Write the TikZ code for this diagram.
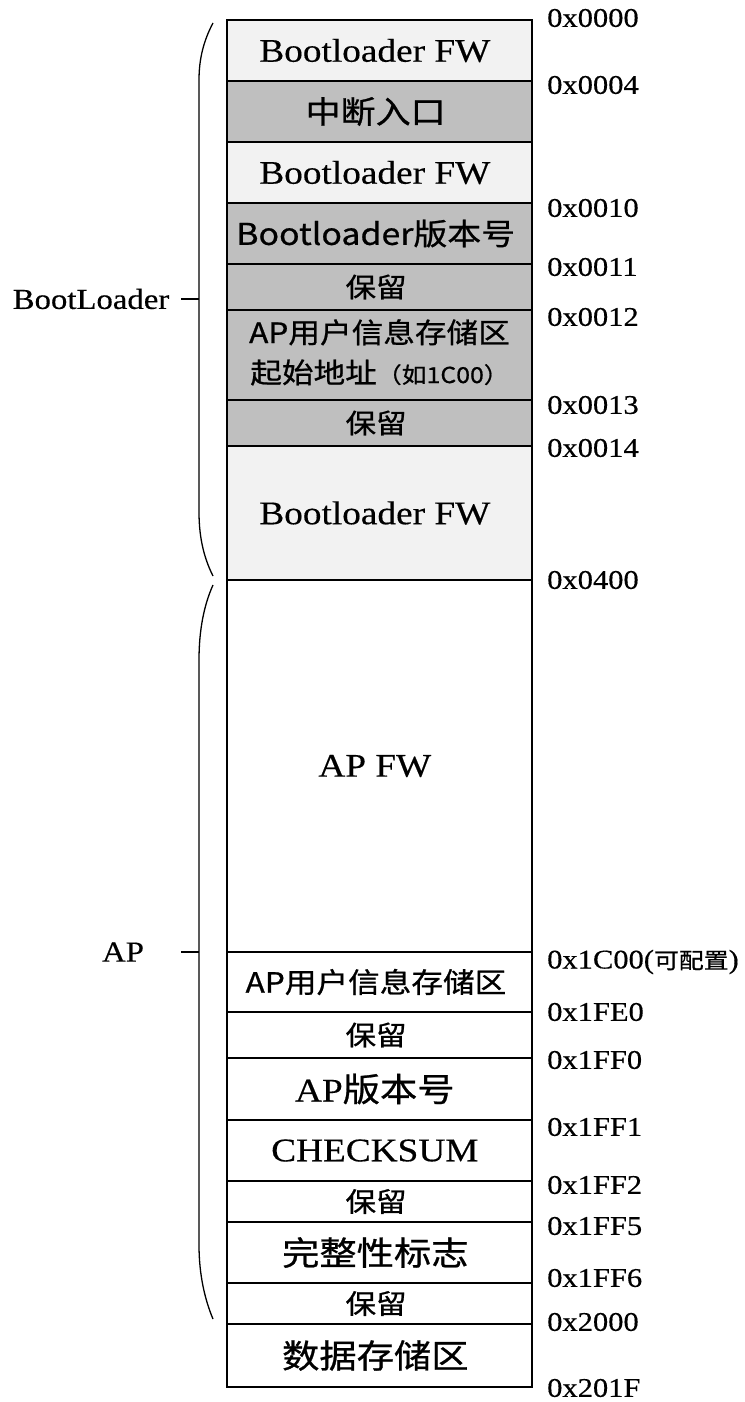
\documentclass[tikz,border=0pt]{standalone}
\usepackage{fontspec}
\setmainfont{Liberation Serif}[FakeStretch=1.13,FakeBold=0.4]
\newfontfamily\cjk{Noto Sans CJK SC}[FakeStretch=1.13,FakeBold=0.8]
\usetikzlibrary{matrix,positioning,calc}
\definecolor{fwgray}{HTML}{F2F2F2}
\definecolor{cfggray}{HTML}{BFBFBF}
\newcommand\cellfont{\fontsize{33}{38}\selectfont}
\newcommand\addrfont{\fontsize{27}{30}\selectfont}
\newcommand\twolines[2]{\begin{tabular}{@{}c@{}}#1\\#2\end{tabular}}
\newcommand\apstart{\twolines{AP用户信息存储区}{\fontsize{28}{40}\selectfont 起始地址{\fontsize{22}{40}\selectfont（如1C00）}}}
\tikzset{
memmap/.style={
  matrix of nodes,
  inner sep=0pt,
  outer sep=0pt,
  line width=1.6pt,
  row sep=-1.6pt,
  nodes={draw,minimum width=305pt,inner sep=0pt,align=center,font=\cellfont}
  },
fw/.style={fill=fwgray},
cfg/.style={fill=cfggray},
cjkcell/.style={font=\cjk\fontsize{#1}{40}\selectfont},
addr/.style={anchor=west,inner sep=0pt,font=\addrfont},
part/.style={inner sep=0pt,font=\fontsize{29}{32}\selectfont},
brace/.style={line width=1.3pt}
}
\begin{document}
\begin{tikzpicture}[x=1pt,y=-1pt]
  \useasboundingbox (0,0) rectangle (744,1402);
  \matrix[memmap,anchor=north west] at (226.2,19.2) (map)
  {
    |[fw,minimum height=61pt]| Bootloader FW \\
    |[cfg,minimum height=61pt,cjkcell=31]| 中断入口 \\
    |[fw,minimum height=61pt]| Bootloader FW \\
    |[cfg,minimum height=61pt,cjkcell=30]| Bootloader版本号 \\
    |[cfg,minimum height=46pt,cjkcell=27]| 保留 \\
    |[cfg,minimum height=90pt,cjkcell=28]| \apstart \\
    |[cfg,minimum height=46pt,cjkcell=27]| 保留 \\
    |[fw,minimum height=134pt]| Bootloader FW \\
    |[minimum height=372pt]| AP FW \\
    |[minimum height=60pt,cjkcell=28]| AP用户信息存储区 \\
    |[minimum height=46pt,cjkcell=27]| 保留 \\
    |[minimum height=62pt]| AP{\cjk 版本号} \\
    |[minimum height=61pt]| CHECKSUM \\
    |[minimum height=41pt,cjkcell=27]| 保留 \\
    |[minimum height=61pt,cjkcell=33]| 完整性标志 \\
    |[minimum height=41pt,cjkcell=27]| 保留 \\
    |[minimum height=63pt,cjkcell=33]| 数据存储区 \\
  };

  % addresses
  \node[addr] (a0000) at ([xshift=15pt,yshift=2pt]map-1-1.north east) {0x0000};
  \node[addr] (a0004) at ([xshift=15pt,yshift=-4pt]map-2-1.north east) {0x0004};
  \node[addr] (a0010) at ([xshift=15pt,yshift=-5pt]map-4-1.north east) {0x0010};
  \node[addr] (a0011) at ([xshift=15pt,yshift=-3pt]map-5-1.north east) {0x0011};
  \node[addr] (a0012) at ([xshift=15pt,yshift=-7pt]map-6-1.north east) {0x0012};
  \node[addr] (a0013) at ([xshift=15pt,yshift=-5pt]map-7-1.north east) {0x0013};
  \node[addr] (a0014) at ([xshift=15pt,yshift=-2pt]map-8-1.north east) {0x0014};
  \node[addr] (a0400) at ([xshift=15pt]map-9-1.north east) {0x0400};
  \node[addr] (a1c00) at ([xshift=15pt,yshift=-10pt]map-10-1.north east) {0x1C00({\cjk\fontsize{22}{26}\selectfont 可配置})};
  \node[addr] (a1fe0) at ([xshift=15pt]map-11-1.north east) {0x1FE0};
  \node[addr] (a1ff0) at ([xshift=15pt,yshift=-2pt]map-12-1.north east) {0x1FF0};
  \node[addr] (a1ff1) at ([xshift=15pt,yshift=-7pt]map-13-1.north east) {0x1FF1};
  \node[addr] (a1ff2) at ([xshift=15pt,yshift=-4pt]map-14-1.north east) {0x1FF2};
  \node[addr] (a1ff5) at ([xshift=15pt,yshift=-4pt]map-15-1.north east) {0x1FF5};
  \node[addr] (a1ff6) at ([xshift=15pt,yshift=5pt]map-16-1.north east) {0x1FF6};
  \node[addr] (a2000) at ([xshift=15pt,yshift=2pt]map-17-1.north east) {0x2000};
  \node[addr] (a201f) at ([xshift=15pt,yshift=-1pt]map-17-1.south east) {0x201F};

  % regions
  \node[part] (bootl) at (91,299) {BootLoader};
  \node[part] (apl) at (123,952) {AP};
  \coordinate (btip) at (199,299);
  \coordinate (atip) at (199,952);
  \draw[brace] (213,23) .. controls (204,40) and (199,58) .. (199,80)
    -- (199,512) .. controls (199,540) and (205,560) .. (213,576);
  \draw[brace] (213,585) .. controls (204,605) and (199,630) .. (199,660)
    -- (199,1245) .. controls (199,1275) and (205,1300) .. (213,1319);
  \draw[brace] (btip) -- ++(-18,0);
  \draw[brace] (atip) -- ++(-18,0);
\end{tikzpicture}
\end{document}
